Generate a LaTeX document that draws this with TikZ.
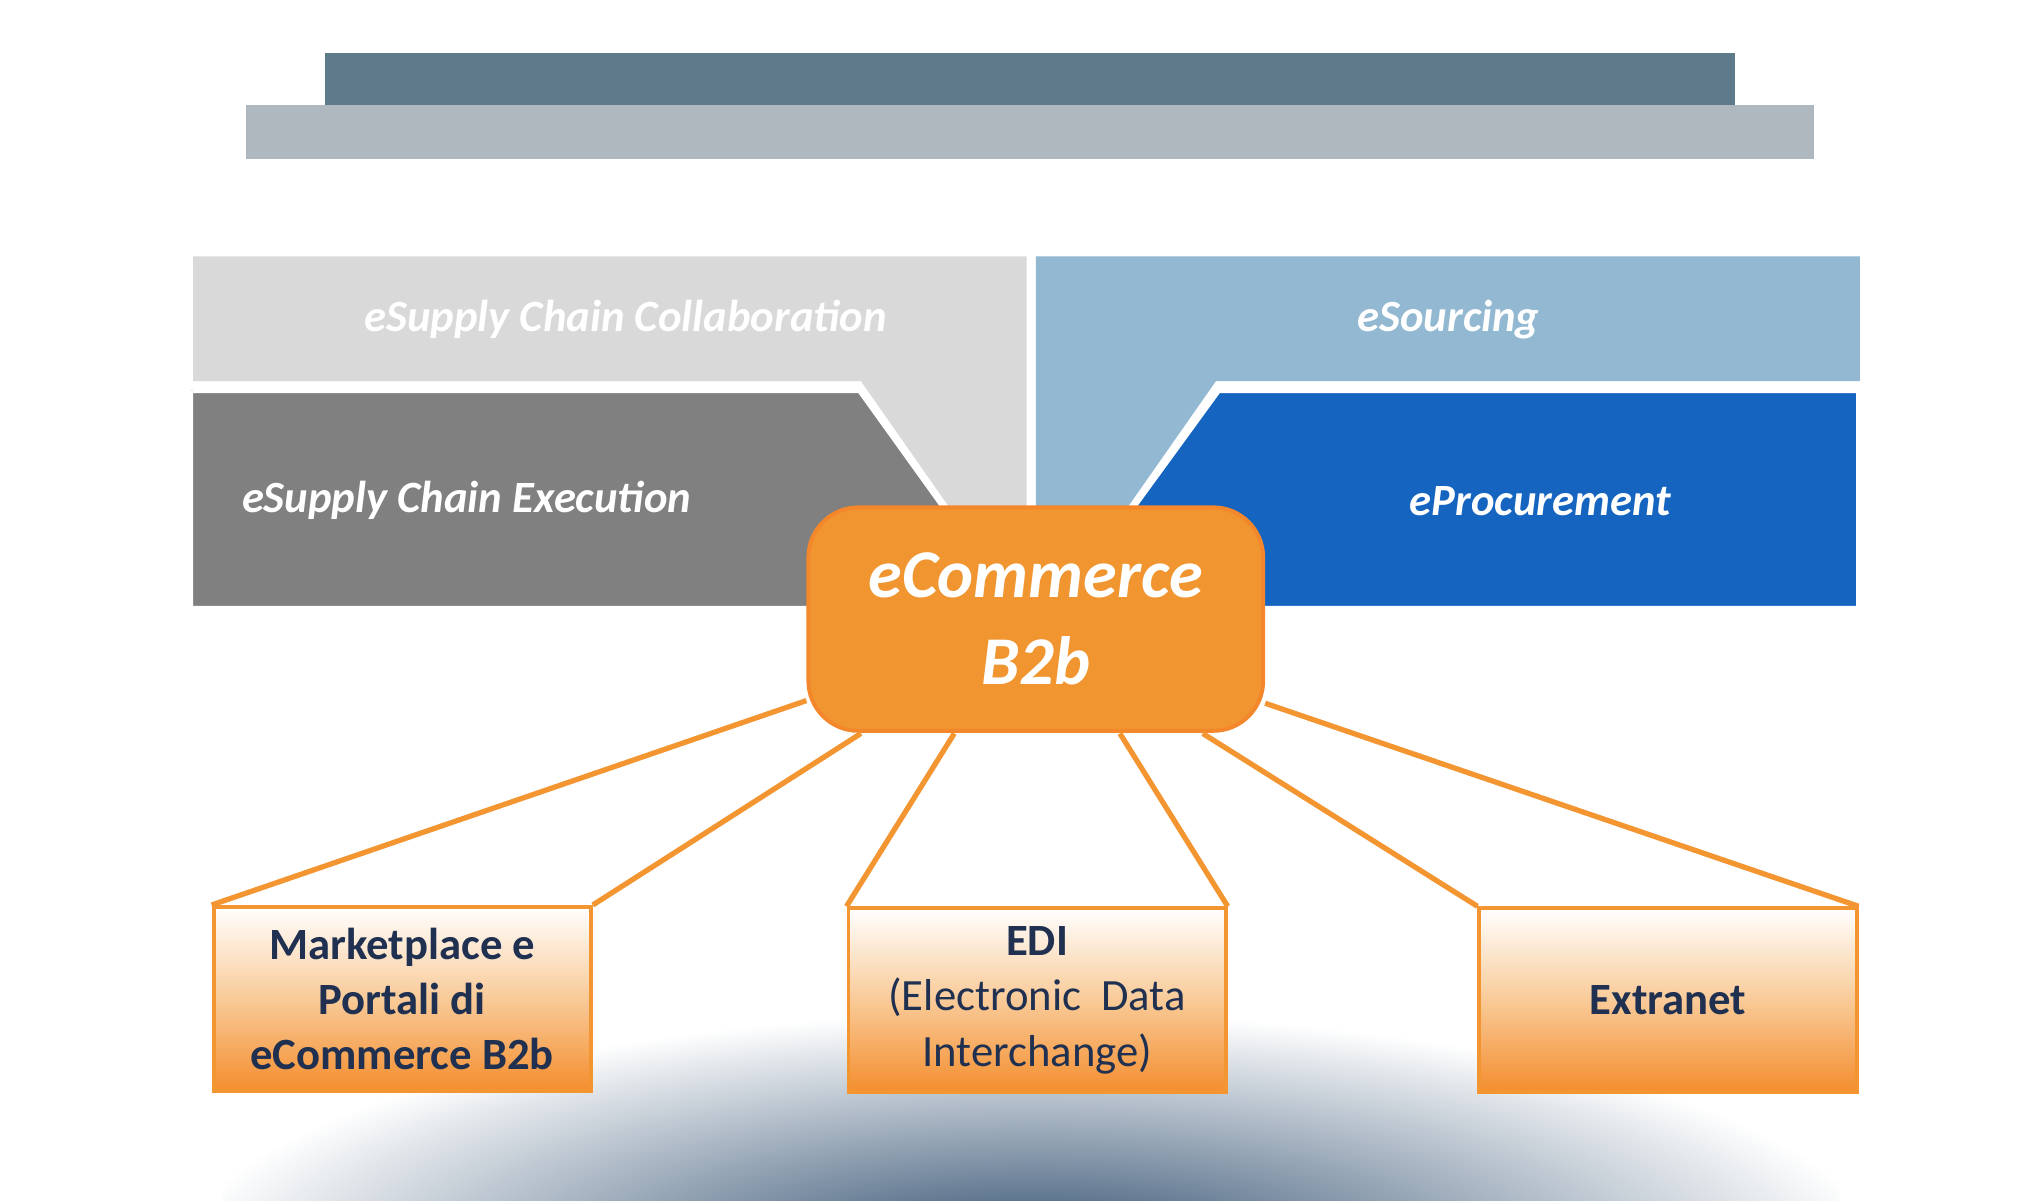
\documentclass[tikz,border=0pt]{standalone}
\usepackage{fontspec}
\setmainfont{Carlito}
\usetikzlibrary{shapes.misc}
\definecolor{topdark}{HTML}{5F7A8A}
\definecolor{toplight}{HTML}{AFB7BF}
\definecolor{lgray}{HTML}{D9D9D9}
\definecolor{dgray}{HTML}{808080}
\definecolor{lblue}{HTML}{92B9D1}
\definecolor{dblue}{HTML}{1565C0}
\definecolor{ofill}{HTML}{F0952F}
\definecolor{oline}{HTML}{F39530}
\definecolor{navy}{HTML}{1F3050}
\definecolor{glow}{HTML}{2B4A6B}
\tikzset{
  band/.style={draw=white,line width=4pt,line join=miter},
  bandtxt/.style={text=white,font=\fontsize{34}{40}\selectfont\itshape\bfseries},
  leaf/.style={draw=oline,line width=3pt,top color=white,bottom color=oline!95!red,middle color=oline!50!white,minimum width=287pt,minimum height=140pt,text=navy,align=center,font=\fontsize{34}{42}\selectfont\bfseries},
  link/.style={draw=oline,line width=4pt}
}
\begin{document}
\begin{tikzpicture}[x=1pt,y=-1pt]
\useasboundingbox (0,0) rectangle (1552,913);
% bottom glow
\begin{scope}
\clip (170,700) rectangle (1400,913);
\shade[inner color=glow,outer color=white] (785,960) ellipse (650 and 190);
\end{scope}
% top bars
\fill[topdark] (247,40) rectangle (1320,80);
\fill[toplight] (187,80) rectangle (1380,121);
% bands
\fill[lgray] (147,195) -- (781,195) -- (781,390) -- (725,390) -- (655,290) -- (147,290) -- cycle;
\draw[band,fill=dgray] (147,297) -- (654,297) -- (728,400) -- (728,463) -- (145,463) -- (145,297);
\fill[lblue] (788,195) -- (1415,195) -- (1415,290) -- (925,290) -- (855,390) -- (788,390) -- cycle;
\draw[band,fill=dblue] (1414,297) -- (927,297) -- (852,400) -- (852,463) -- (1414,463) -- cycle;
\node[bandtxt,text=white] (collab) at (476,243) {eSupply Chain Collaboration};
\node[bandtxt] (exec) at (355,381) {eSupply Chain Execution};
\node[bandtxt] (sourc) at (1102,243) {eSourcing};
\node[bandtxt] (proc) at (1172,381) {eProcurement};
% leaves
\node[leaf] (mp) at (306,760) {Marketplace e\\Portali di\\eCommerce B2b};
\node[leaf] (edi) at (789,761) {EDI\\{\mdseries(Electronic\ \ Data}\\{\mdseries Interchange)}};
\node[leaf] (ext) at (1269,761) {Extranet};
% center
\node[draw=oline!90!red,line width=3pt,fill=ofill,rounded corners=38pt,minimum width=346pt,minimum height=170pt,text=white,align=center,font=\fontsize{52}{66}\selectfont\itshape\bfseries] (ec) at (788,471) {eCommerce\\B2b};
% links
\begin{scope}[on background layer/.style={}]
\end{scope}
\draw[link] (ec.west |- 0,533) -- (mp.north west);
\draw[link] (655,558) -- (mp.north east);
\draw[link] (726,558) -- (edi.north west);
\draw[link] (852,558) -- (edi.north east);
\draw[link] (915,558) -- (ext.north west);
\draw[link] (ec.east |- 0,535) -- (ext.north east);
\end{tikzpicture}
\end{document}
